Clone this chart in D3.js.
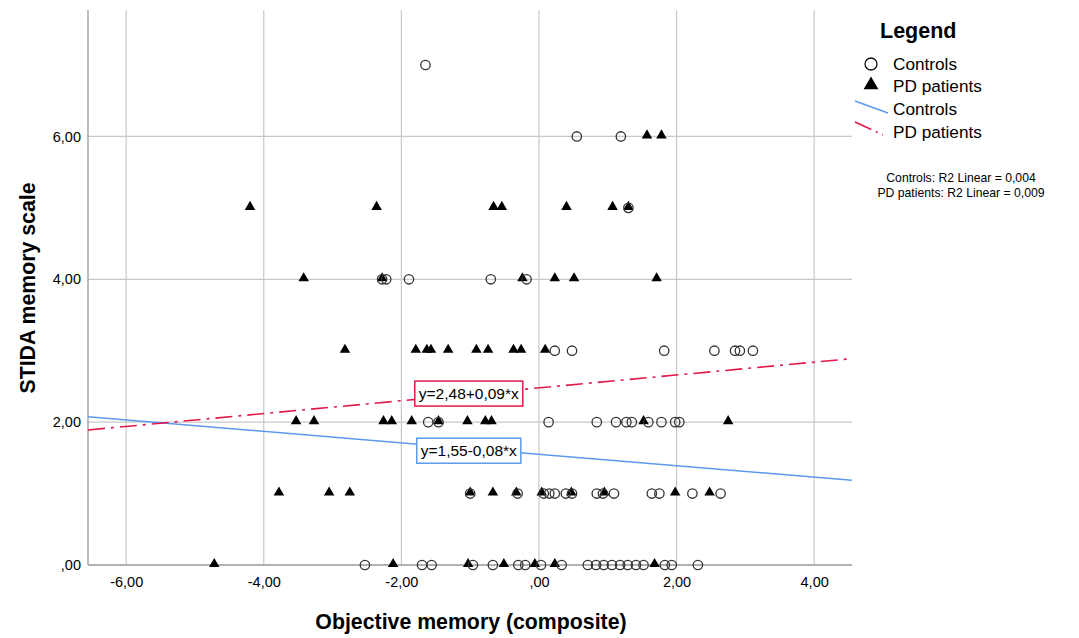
<!DOCTYPE html>
<html>
<head>
<meta charset="utf-8">
<script src="https://cdn.jsdelivr.net/npm/d3@7"></script>
<style>
  body { margin: 0; background: #fff; }
  svg text { font-family: "Liberation Sans", Arial, sans-serif; fill: #000; }
</style>
</head>
<body>
<svg id="chart" width="1079" height="638"></svg>
<script>
// scatter data (x = composite score, y = STIDA score)
const controlsX = [-1.65,
  0.55, 1.19,
  1.30,
  -2.28, -2.22, -1.89, -0.70, -0.18,
  0.23, 0.48, 1.82, 2.55, 2.85, 2.92, 3.11,
  -1.61, -1.46, 0.14, 0.84, 1.12, 1.27, 1.35, 1.59, 1.78, 1.98, 2.04,
  -1.00, -0.31, 0.07, 0.15, 0.23, 0.39, 0.48, 0.84, 0.93, 1.09, 1.64, 1.75, 2.23, 2.64,
  -2.53, -1.70, -1.56, -0.96, -0.67, -0.30, -0.20, 0.03, 0.33, 0.71, 0.83, 0.94, 1.06, 1.18, 1.29, 1.41, 1.52, 1.83, 1.93, 2.31];
const controlsY = [7,
  6, 6,
  5,
  4, 4, 4, 4, 4,
  3, 3, 3, 3, 3, 3, 3,
  2, 2, 2, 2, 2, 2, 2, 2, 2, 2, 2,
  1, 1, 1, 1, 1, 1, 1, 1, 1, 1, 1, 1, 1, 1,
  0, 0, 0, 0, 0, 0, 0, 0, 0, 0, 0, 0, 0, 0, 0, 0, 0, 0, 0, 0];

const patientsX = [1.57, 1.78,
  -4.20, -2.36, -0.66, -0.54, 0.40, 1.07, 1.30,
  -3.42, -2.28, -0.24, 0.23, 0.51, 1.71,
  -2.82, -1.79, -1.63, -1.57, -1.32, -0.91, -0.74, -0.37, -0.26, 0.09,
  -3.53, -3.27, -2.26, -2.14, -1.85, -1.46, -1.04, -0.78, -0.69, 1.52, 2.75,
  -3.78, -3.05, -2.75, -1.00, -0.67, -0.33, 0.04, 0.47, 0.95, 1.98, 2.48,
  -4.72, -2.12, -1.03, -0.51, -0.06, 0.23, 1.68];
const patientsY = [6, 6,
  5, 5, 5, 5, 5, 5, 5,
  4, 4, 4, 4, 4, 4,
  3, 3, 3, 3, 3, 3, 3, 3, 3, 3,
  2, 2, 2, 2, 2, 2, 2, 2, 2, 2, 2,
  1, 1, 1, 1, 1, 1, 1, 1, 1, 1, 1,
  0, 0, 0, 0, 0, 0, 0];

// fit lines: intercept, slope
const controlsFit = [1.55, -0.08];
const patientsFit = [2.48, 0.09];
const fitLabels = ["y=1,55-0,08*x", "y=2,48+0,09*x"];
const labelAnchorX = [-1.02, -1.02];
const labelAnchorY = [1.60, 2.40];

const xTicks = [-6, -4, -2, 0, 2, 4];
const yTicks = [0, 2, 4, 6];
const xDomain = [-6.555, 4.55];
const yDomain = [0, 7.77];

const blue = "#5c9aed";
const red = "#e3194b";

const fmt = v => {
  if (v === 0) return ",00";
  return d3.format(".2f")(v).replace(".", ",").replace("−", "-");
};

const svg = d3.select("#chart");
const mLeft = 88, mRight = 852, mTop = 10, mBottom = 565;

const x = d3.scaleLinear().domain(xDomain).range([mLeft, mRight]);
const y = d3.scaleLinear().domain(yDomain).range([mBottom, mTop]);

// gridlines
svg.append("g")
  .selectAll("line")
  .data(xTicks)
  .join("line")
  .attr("x1", d => x(d)).attr("x2", d => x(d))
  .attr("y1", mTop).attr("y2", mBottom)
  .attr("stroke", "#c8c8c8").attr("stroke-width", 1.2);

svg.append("g")
  .selectAll("line")
  .data(yTicks.filter(d => d > 0))
  .join("line")
  .attr("x1", mLeft).attr("x2", mRight)
  .attr("y1", d => y(d)).attr("y2", d => y(d))
  .attr("stroke", "#c8c8c8").attr("stroke-width", 1.2);

// axes
const xAxis = d3.axisBottom(x).tickValues(xTicks).tickFormat(fmt).tickSize(0).tickPadding(12);
const yAxis = d3.axisLeft(y).tickValues(yTicks).tickFormat(fmt).tickSize(0).tickPadding(7);

const gx = svg.append("g").attr("transform", `translate(0,${mBottom})`).call(xAxis);
gx.select(".domain").attr("stroke", "#999").attr("stroke-width", 1.3).attr("d", `M${mLeft},0H${mRight}`);
gx.selectAll("text").attr("font-size", 14.5).attr("font-family", "Liberation Sans, Arial, sans-serif").attr("fill", "#111");

const gy = svg.append("g").attr("transform", `translate(${mLeft},0)`).call(yAxis);
gy.select(".domain").attr("stroke", "#999").attr("stroke-width", 1.3).attr("d", `M0,${mTop}V${mBottom}`);
gy.selectAll("text").attr("font-size", 14.5).attr("font-family", "Liberation Sans, Arial, sans-serif").attr("fill", "#111");

// axis titles
svg.append("text")
  .attr("x", 471).attr("y", 629)
  .attr("text-anchor", "middle")
  .attr("font-size", 21.3).attr("font-weight", "bold")
  .text("Objective memory (composite)");

svg.append("text")
  .attr("transform", `translate(35,288) rotate(-90)`)
  .attr("text-anchor", "middle")
  .attr("font-size", 21.3).attr("font-weight", "bold")
  .text("STIDA memory scale");

// fit lines
const fitLine = f => d3.line()
  .x(d => x(d))
  .y(d => y(f[0] + f[1] * d));

svg.append("path")
  .datum(xDomain)
  .attr("d", fitLine(controlsFit))
  .attr("fill", "none").attr("stroke", blue).attr("stroke-width", 1.5);

svg.append("path")
  .datum(xDomain)
  .attr("d", fitLine(patientsFit))
  .attr("fill", "none").attr("stroke", red).attr("stroke-width", 1.6)
  .attr("stroke-dasharray", "17,6,3,6");

// points
const controls = controlsX.map((v, i) => [v, controlsY[i]]);
const patients = patientsX.map((v, i) => [v, patientsY[i]]);
const tri = d3.symbol().type(d3.symbolTriangle).size(48);

svg.append("g")
  .selectAll("path")
  .data(patients)
  .join("path")
  .attr("d", tri)
  .attr("transform", d => `translate(${x(d[0])},${y(d[1]) - 1})`)
  .attr("fill", "#000");

svg.append("g")
  .selectAll("circle")
  .data(controls)
  .join("circle")
  .attr("cx", d => x(d[0]))
  .attr("cy", d => y(d[1]))
  .attr("r", 4.7)
  .attr("fill", "none")
  .attr("stroke", "#333")
  .attr("stroke-width", 1.3);

// fit labels
const labelColors = [blue, red];
fitLabels.forEach((t, i) => {
  const cx = x(labelAnchorX[i]), cy = y(labelAnchorY[i]);
  const g = svg.append("g");
  const txt = g.append("text")
    .attr("x", cx).attr("y", cy + 5.5)
    .attr("text-anchor", "middle")
    .attr("font-size", 15.5)
    .text(t);
  const w = txt.node().getComputedTextLength();
  g.insert("rect", "text")
    .attr("x", cx - w / 2 - 4).attr("y", cy - 12.5)
    .attr("width", w + 8).attr("height", 25)
    .attr("fill", "#fff")
    .attr("stroke", labelColors[i]).attr("stroke-width", 1.5);
});

// legend
const lg = svg.append("g");
lg.append("text").attr("x", 880).attr("y", 38)
  .attr("font-size", 21.5).attr("font-weight", "bold").text("Legend");

const legendNames = ["Controls", "PD patients", "Controls", "PD patients"];
const legendY = [64, 86, 109, 132];
legendNames.forEach((n, i) => {
  lg.append("text").attr("x", 893).attr("y", legendY[i] + 6)
    .attr("font-size", 17.2).attr("fill", "#111").text(n);
});
lg.append("circle").attr("cx", 871).attr("cy", legendY[0])
  .attr("r", 6).attr("fill", "none").attr("stroke", "#111").attr("stroke-width", 1.3);
lg.append("path").attr("d", d3.symbol().type(d3.symbolTriangle).size(95))
  .attr("transform", `translate(871,${legendY[1] - 1})`).attr("fill", "#000");
lg.append("line").attr("x1", 855).attr("y1", legendY[2] - 8).attr("x2", 888).attr("y2", legendY[2] + 4)
  .attr("stroke", blue).attr("stroke-width", 1.5);
lg.append("path").attr("d", `M855,${legendY[3] - 10}L883,${legendY[3] + 3}`)
  .attr("stroke", red).attr("stroke-width", 1.6).attr("fill", "none")
  .attr("stroke-dasharray", "18,5,2,5");

const r2Lines = ["Controls: R2 Linear = 0,004", "PD patients: R2 Linear = 0,009"];
r2Lines.forEach((t, i) => {
  lg.append("text").attr("x", 961).attr("y", 182 + i * 15)
    .attr("text-anchor", "middle").attr("font-size", 12.2).text(t);
});
</script>
</body>
</html>
